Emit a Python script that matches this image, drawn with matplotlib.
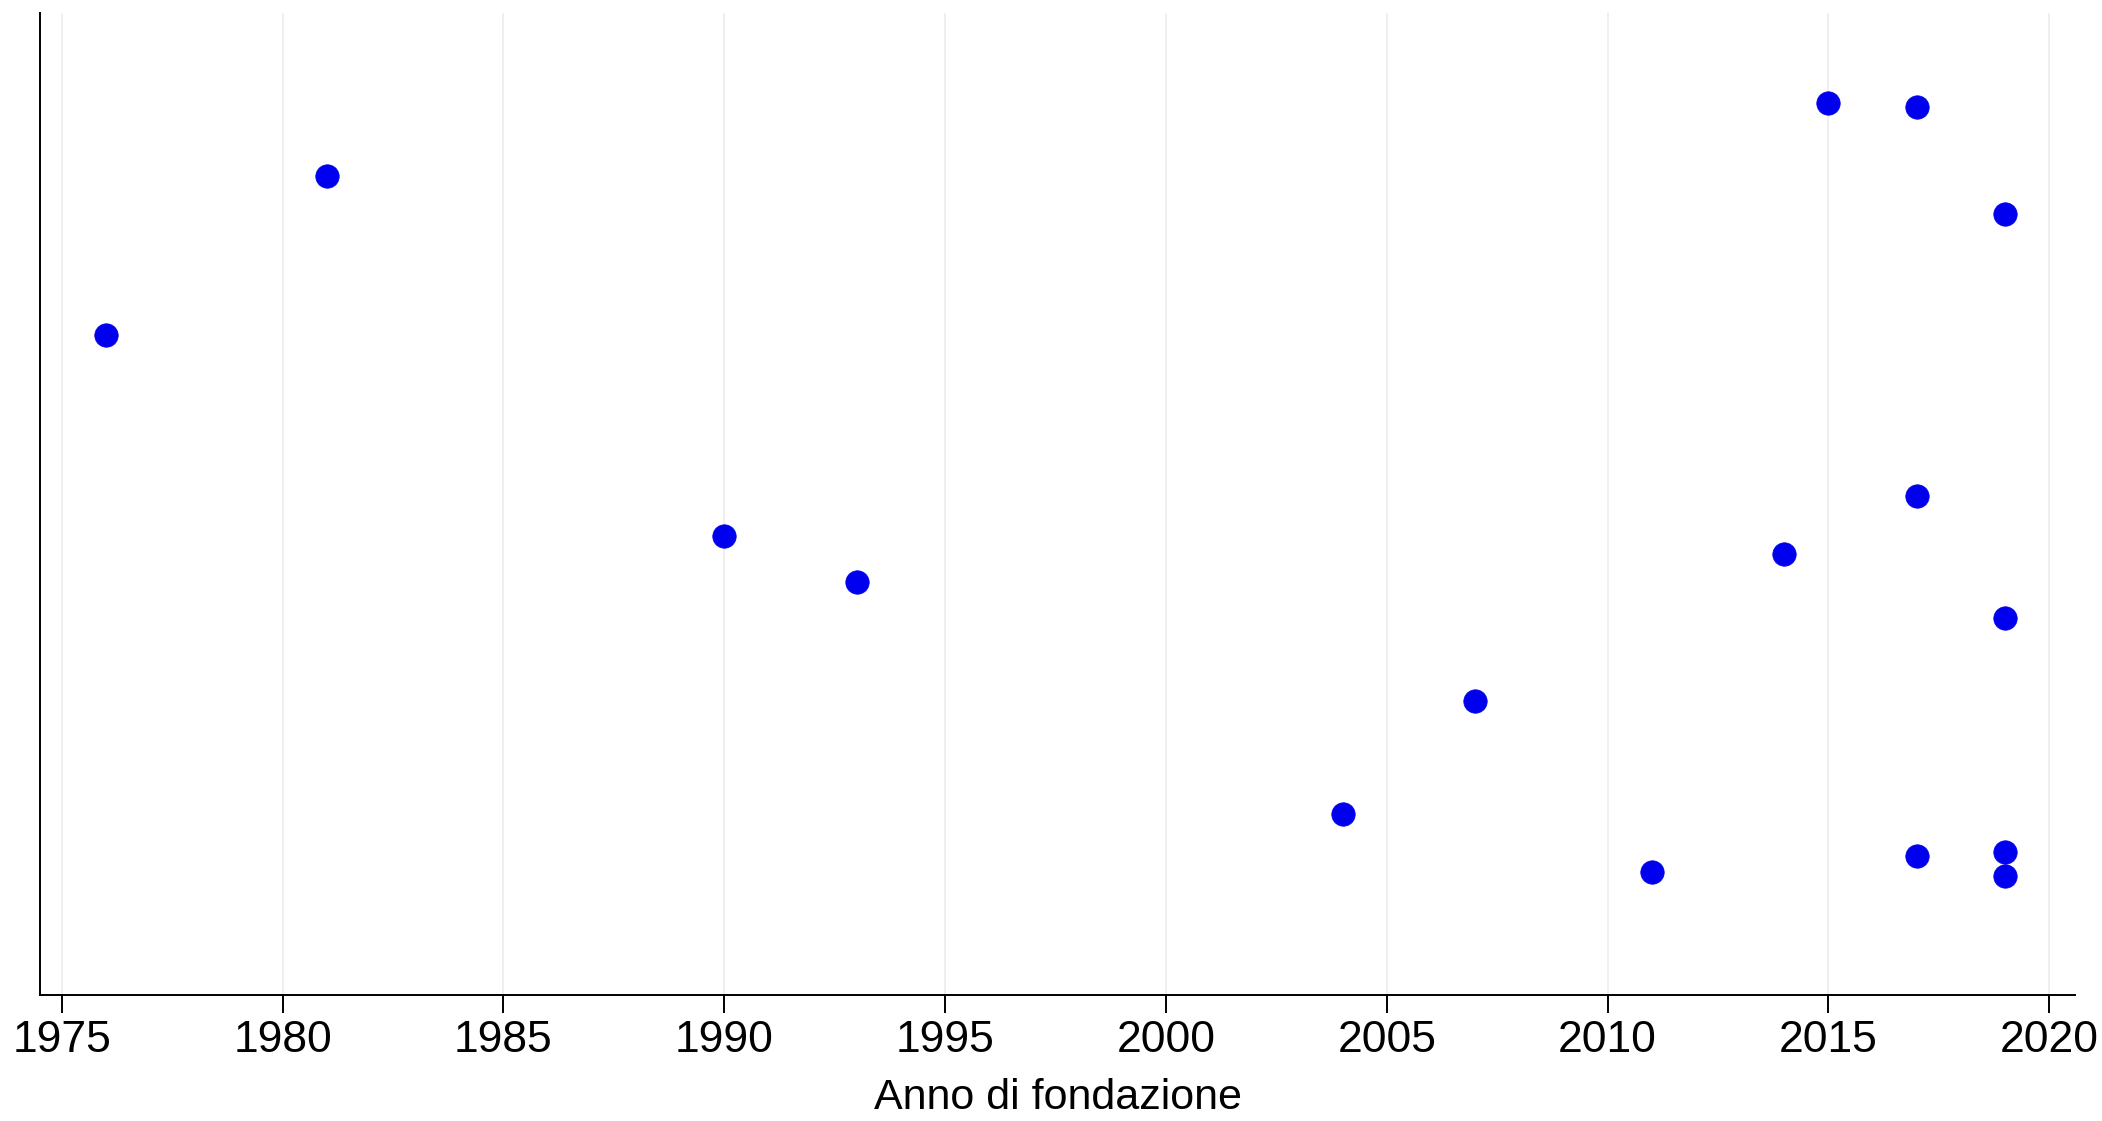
import matplotlib
matplotlib.use("Agg")
import matplotlib.pyplot as plt

plt.rcParams["font.family"] = ["Liberation Sans", "DejaVu Sans"]

# anno di fondazione e valore (asse y senza scala, unita' arbitrarie)
anno = [1976, 1981, 1990, 1993, 2004, 2007, 2011, 2014, 2015,
        2017, 2017, 2017, 2019, 2019, 2019, 2019]
valore = [66.3, 82.2, 46.1, 41.5, 18.2, 29.5, 12.3, 44.3, 89.6,
          89.2, 50.1, 14.0, 78.4, 37.9, 14.4, 11.9]
xticks = list(range(1975, 2021, 5))

fig = plt.figure(figsize=(21.02, 11.21), dpi=100)
ax = fig.add_axes([0.0191, 0.1124, 0.968, 0.876])

ax.scatter(anno, valore, s=285, color="#0000ee", edgecolors="#0000ee",
           linewidths=0.5, zorder=3)

ax.set_xlim(1974.51, 2020.58)
ax.set_ylim(0, 98.6)
ax.set_xticks(xticks)
ax.set_yticks([])
ax.grid(axis="x", color="#ececec", linewidth=1.2)
ax.set_axisbelow(True)

for s in ["top", "right"]:
    ax.spines[s].set_visible(False)
ax.spines["left"].set_linewidth(1.4)
ax.spines["bottom"].set_linewidth(1.4)

ax.tick_params(axis="x", length=13, width=1.4, labelsize=32, pad=5)
ax.set_xlabel("Anno di fondazione", fontsize=31, labelpad=12)

fig.savefig("out.png", dpi=100, facecolor="white")
